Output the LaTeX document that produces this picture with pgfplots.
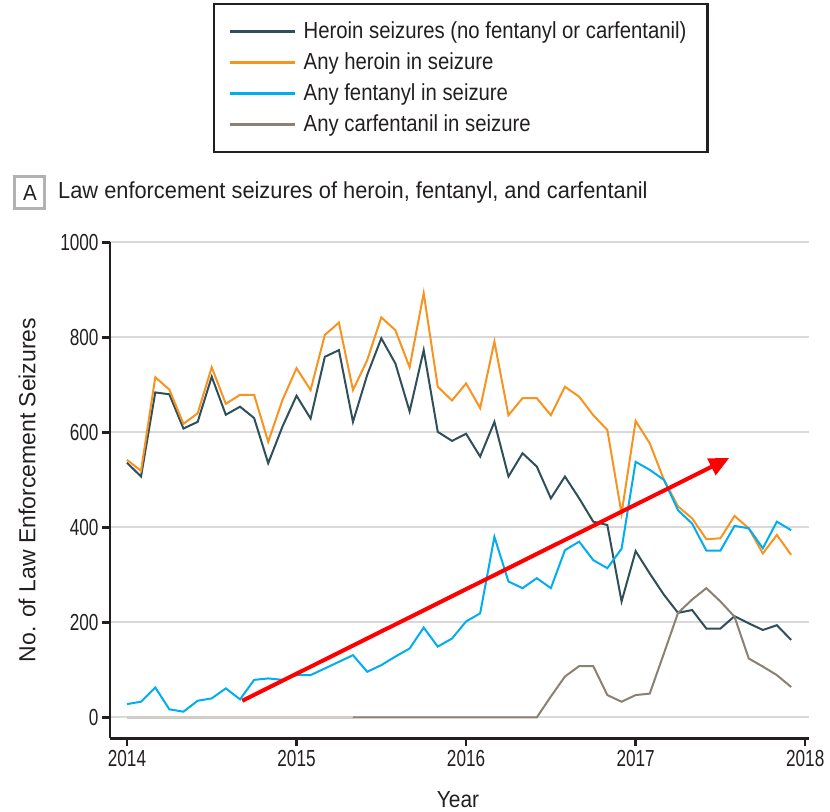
\documentclass[border=0pt]{standalone}
\usepackage{fontspec}
\setmainfont{Liberation Sans}[FakeStretch=0.875]
\newfontfamily\tickfont{Liberation Sans}[FakeStretch=0.74]
\newfontfamily\titlefont{Liberation Sans}[FakeStretch=0.94]
\newfontfamily\ylabfont{Liberation Sans}[FakeStretch=0.99]
\newfontfamily\yearfont{Liberation Sans}[FakeStretch=0.9]
\usepackage{pgfplots}
\usepackage{pgfplotstable}
\pgfplotsset{compat=1.18}
\usetikzlibrary{arrows.meta}
\definecolor{cDark}{HTML}{2F4F5B}
\definecolor{cOrange}{HTML}{F7931E}
\definecolor{cBlue}{HTML}{00AEEF}
\definecolor{cGray}{HTML}{8A8074}
\definecolor{cGrid}{HTML}{D9D9D9}
\definecolor{cAxis}{HTML}{231F20}

\pgfplotstableread{
yr       dark orange blue gray
2014.000 536  542    28   0
2014.083 507  519    33   0
2014.167 684  716    63   0
2014.250 680  690    17   0
2014.333 608  618    12   0
2014.417 622  640    35   0
2014.500 717  737    40   0
2014.583 637  660    61   0
2014.667 654  679    38   0
2014.750 630  679    79   0
2014.833 535  580    82   0
2014.917 612  668    79   0
2015.000 677  735    89   0
2015.083 629  689    89   0
2015.167 759  805    103  0
2015.250 773  831    117  0
2015.333 622  689    131  0
2015.417 721  752    96   0
2015.500 798  842    110  0
2015.583 745  815    128  0
2015.667 644  737    145  0
2015.750 773  893    189  0
2015.833 601  696    149  0
2015.917 582  667    166  0
2016.000 597  703    202  0
2016.083 549  651    219  0
2016.167 622  791    380  0
2016.250 507  636    286  0
2016.333 556  672    272  0
2016.417 528  672    293  0
2016.500 461  636    272  44
2016.583 507  696    352  86
2016.667 461  675    370  108
2016.750 412  636    331  108
2016.833 405  605    314  47
2016.917 244  429    355  33
2017.000 350  624    538  47
2017.083 303  577    521  50
2017.167 258  500    500  135
2017.250 220  444    436  220
2017.333 226  419    408  248
2017.417 187  375    351  272
2017.500 187  377    351  244
2017.583 213  424    403  212
2017.667 198  398    398  124
2017.750 184  345    356  107
2017.833 194  384    412  89
2017.917 163  342    394  64
}\data

\begin{document}
\begin{tikzpicture}
\useasboundingbox (-110bp,-73.7bp) rectangle (720bp,738.3bp);
\begin{axis}[
  at={(0bp,0bp)}, anchor=south west,
  scale only axis, width=698.6bp, height=496bp,
  xmin=2013.9, xmax=2018.02, ymin=-44, ymax=1000,
  axis lines=left,
  axis line style={-, line width=2.5bp, cAxis},
  xtick={2014,2015,2016,2017,2018},
  ytick={0,200,400,600,800,1000},
  tick align=outside, major tick length=8bp,
  tick style={line width=2.5bp, cAxis},
  xticklabel style={/pgf/number format/1000 sep=},
  yticklabel style={/pgf/number format/1000 sep=},
  /pgf/number format/assume math mode=true,
  ymajorgrids, grid style={cGrid, line width=2bp},
  ticklabel style={text=cAxis, font=\tickfont\fontsize{23.3}{27}\selectfont},
  legend cell align=left,
  legend image code/.code={\draw[#1,line width=3.5bp] (0bp,0bp) -- (65bp,0bp);},
  legend style={at={(0.1474,1.4825)}, anchor=north west,
    draw=cAxis, line width=2.5bp, fill=white,
    inner xsep=14bp, inner ysep=15bp, row sep=6bp,
    nodes={inner ysep=1bp, inner xsep=7bp, text height=18bp, text depth=5bp, text=cAxis},
    font=\fontsize{23.3}{27}\selectfont},
]
\addplot[cDark, line width=2bp] table[x=yr, y=dark] {\data};
\addlegendentry{Heroin seizures (no fentanyl or carfentanil)}
\addplot[cOrange, line width=2bp] table[x=yr, y=orange] {\data};
\addlegendentry{Any heroin in seizure}
\addplot[cBlue, line width=2bp] table[x=yr, y=blue] {\data};
\addlegendentry{Any fentanyl in seizure}
\addplot[forget plot, cGray!40, line width=3bp, restrict x to domain=2013.5:2015.34] table[x=yr, y=gray] {\data};
\addplot[cGray, line width=2bp, restrict x to domain=2015.32:2018.5] table[x=yr, y=gray] {\data};
\addlegendentry{Any carfentanil in seizure}
\addplot[forget plot, red, line width=4bp, -{Triangle[length=20bp,width=18bp]}]
  coordinates {(2014.68,35) (2017.552,546)};
\end{axis}
\node[rotate=90, font=\ylabfont\fontsize{23.3}{27}\selectfont, text=cAxis] at (-83bp,248.3bp) {No. of Law Enforcement Seizures};
\node[font=\yearfont\fontsize{23.3}{27}\selectfont, text=cAxis] at (348bp,-61.7bp) {Year};
\node[draw=black!30, line width=3bp, minimum width=30bp, minimum height=32bp, inner sep=0pt,
  font=\titlefont\fontsize{22}{26}\selectfont, text=cAxis] at (-80bp,545.8bp) {A};
\node[anchor=west, font=\titlefont\fontsize{23.3}{27}\selectfont, text=cAxis, inner sep=0pt] at (-52bp,546bp) {Law enforcement seizures of heroin, fentanyl, and carfentanil};
\end{tikzpicture}
\end{document}
